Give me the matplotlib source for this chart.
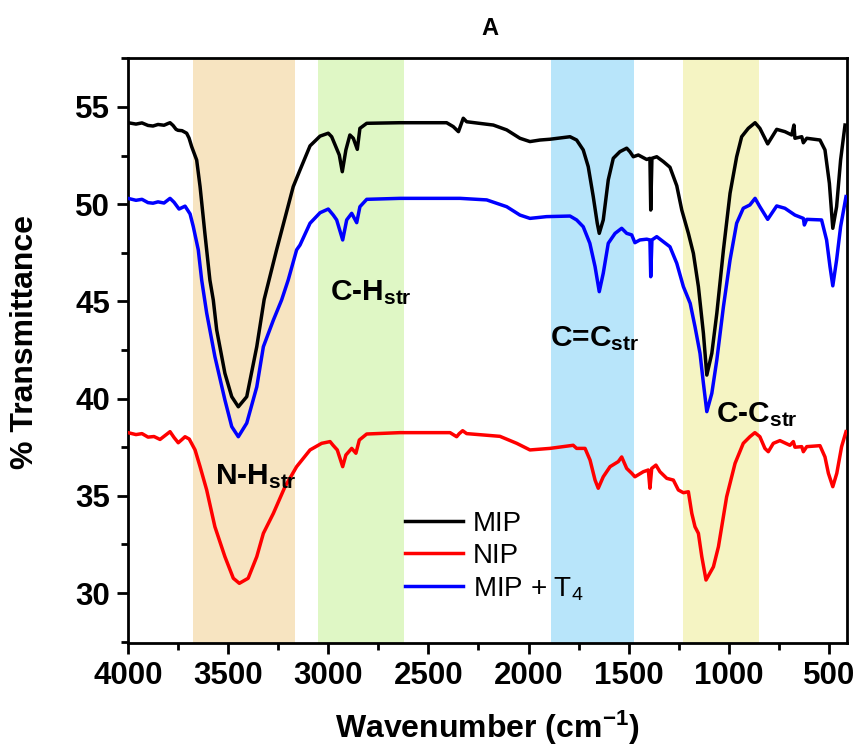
import matplotlib
matplotlib.use("Agg")
import matplotlib.pyplot as plt
from matplotlib.ticker import MultipleLocator

plt.rcParams['font.family'] = ['Liberation Sans', 'DejaVu Sans']
plt.rcParams['mathtext.fontset'] = 'custom'
plt.rcParams['mathtext.rm'] = 'Liberation Sans'
plt.rcParams['mathtext.it'] = 'Liberation Sans:italic'
plt.rcParams['mathtext.bf'] = 'Liberation Sans:bold'

# ---- FTIR spectra (wavenumber in cm-1, % transmittance) ----
mip_wn = [4000, 3960, 3930, 3900, 3875, 3850, 3820, 3800, 3790, 3775, 3760, 3750, 3730,
          3707, 3695, 3682, 3657, 3640, 3616, 3591, 3574, 3557, 3516, 3482, 3449, 3407,
          3357, 3320, 3258, 3175, 3141, 3091, 3041, 3000, 2983, 2966, 2945, 2930, 2912,
          2892, 2875, 2855, 2842, 2808, 2642, 2409, 2376, 2350, 2326, 2309, 2176, 2109,
          2043, 1993, 1943, 1893, 1793, 1760, 1727, 1702, 1677, 1657, 1647, 1627, 1602,
          1577, 1544, 1510, 1494, 1477, 1452, 1410, 1394, 1390, 1384, 1360, 1327, 1294,
          1260, 1235, 1202, 1177, 1152, 1127, 1110, 1085, 1060, 1027, 994, 961, 936, 903,
          869, 845, 806, 761, 720, 686, 675, 670, 636, 628, 611, 545, 520, 498, 481, 462,
          442, 420]
mip_t = [54.19, 54.12, 54.18, 54.05, 54.02, 54.10, 54.06, 54.15, 54.19, 54.05, 53.85, 53.80,
         53.78, 53.65, 53.40, 52.96, 52.27, 50.9, 48.5, 46.1, 45.07, 43.53, 41.3, 40.1,
         39.58, 40.1, 42.67, 45.1, 47.65, 50.9, 51.76, 53.0, 53.5, 53.65, 53.47, 53.05,
         52.53, 51.67, 52.79, 53.56, 53.39, 52.82, 53.9, 54.16, 54.19, 54.19, 53.99, 53.73,
         54.42, 54.24, 54.07, 53.82, 53.39, 53.22, 53.3, 53.34, 53.47, 53.3, 52.79, 51.93,
         50.39, 49.02, 48.5, 49.19, 51.25, 52.36, 52.7, 52.88, 52.7, 52.44, 52.53, 52.3,
         52.36, 49.7, 52.36, 52.44, 52.19, 51.9, 50.95, 49.7, 48.5, 47.47, 45.76, 43.36,
         41.21, 42.33, 44.39, 47.65, 50.56, 52.44, 53.47, 53.9, 54.19, 53.9, 53.1, 53.85,
         53.73, 53.56, 54.07, 53.39, 53.47, 53.16, 53.39, 53.3, 52.79, 51.07, 48.76, 49.87,
         52.27, 54.07]

nip_wn = [4000, 3960, 3930, 3900, 3870, 3840, 3815, 3790, 3770, 3749, 3730, 3715, 3694,
          3665, 3640, 3607, 3566, 3516, 3474, 3444, 3400, 3357, 3324, 3274, 3216, 3158,
          3091, 3033, 2991, 2976, 2955, 2928, 2912, 2883, 2862, 2845, 2808, 2642, 2392,
          2359, 2346, 2329, 2309, 2143, 2059, 1993, 1893, 1777, 1760, 1718, 1693, 1668,
          1652, 1627, 1593, 1552, 1535, 1510, 1485, 1469, 1427, 1402, 1394, 1385, 1364,
          1344, 1310, 1277, 1252, 1227, 1202, 1185, 1169, 1152, 1135, 1114, 1077, 1052,
          1011, 969, 928, 895, 870, 845, 820, 803, 778, 745, 695, 678, 670, 636, 628, 611,
          545, 520, 503, 481, 461, 437, 415]
nip_t = [38.25, 38.15, 38.2, 38.02, 38.05, 37.9, 38.1, 38.3, 38.0, 37.73, 37.9, 38.04, 37.92,
         37.36, 36.5, 35.3, 33.41, 31.87, 30.76, 30.5, 30.76, 31.87, 33.07, 34.1, 35.47,
         36.5, 37.36, 37.7, 37.79, 37.6, 37.36, 36.5, 37.1, 37.44, 37.19, 37.87, 38.18,
         38.25, 38.25, 38.04, 38.2, 38.35, 38.2, 38.06, 37.7, 37.36, 37.44, 37.6, 37.44,
         37.44, 36.84, 35.81, 35.39, 35.98, 36.5, 36.76, 37.0, 36.41, 36.16, 35.98, 36.24,
         36.33, 35.39, 36.41, 36.58, 36.24, 35.9, 35.81, 35.3, 35.16, 35.21, 34.1, 33.41,
         33.07, 31.87, 30.67, 31.35, 32.38, 34.95, 36.67, 37.7, 38.04, 38.25, 38.04, 37.44,
         37.27, 37.7, 37.84, 37.6, 37.79, 37.5, 37.53, 37.27, 37.53, 37.58, 37.0, 36.16,
         35.47, 36.16, 37.53, 38.3]

mipt4_wn = [4000, 3960, 3930, 3900, 3875, 3850, 3820, 3800, 3790, 3770, 3745, 3715, 3690,
            3674, 3649, 3632, 3607, 3566, 3516, 3482, 3449, 3407, 3357, 3324, 3274, 3233,
            3200, 3158, 3141, 3091, 3041, 3000, 2975, 2958, 2928, 2908, 2883, 2858, 2842,
            2808, 2642, 2342, 2209, 2109, 2043, 1993, 1910, 1793, 1760, 1727, 1694, 1668,
            1647, 1627, 1602, 1568, 1535, 1510, 1485, 1469, 1444, 1410, 1394, 1390, 1384,
            1360, 1327, 1294, 1260, 1227, 1193, 1169, 1144, 1127, 1110, 1085, 1060, 1027,
            994, 961, 928, 895, 869, 845, 806, 761, 720, 670, 628, 623, 611, 537, 512, 495,
            481, 462, 442, 415]
mipt4_t = [50.3, 50.2, 50.25, 50.08, 50.05, 50.12, 50.06, 50.22, 50.3, 50.1, 49.75, 49.9,
           49.5, 48.85, 47.65, 46.1, 44.4, 42.16, 39.93, 38.56, 38.04, 38.74, 40.6, 42.67,
           44.04, 45.07, 46.1, 47.65, 47.9, 49.02, 49.56, 49.75, 49.44, 49.19, 48.16, 49.19,
           49.53, 49.05, 49.87, 50.25, 50.3, 50.3, 50.22, 49.87, 49.44, 49.27, 49.36, 49.39,
           49.19, 48.84, 47.99, 46.79, 45.5, 46.45, 47.99, 48.5, 48.76, 48.5, 48.42, 48.02,
           48.16, 48.2, 48.16, 46.27, 48.16, 48.33, 48.07, 47.81, 46.96, 45.76, 44.9, 43.7,
           42.33, 40.79, 39.33, 40.27, 41.99, 44.73, 47.13, 49.02, 49.79, 49.96, 50.3, 49.87,
           49.22, 49.91, 49.79, 49.44, 49.27, 48.93, 49.22, 49.19, 48.16, 46.79, 45.8, 47.13,
           48.84, 50.39]

# ---- shaded vibration bands ----
band_ranges = [(3675, 3165), (3050, 2620), (1890, 1475), (1230, 850)]
band_colors = ['#F7E4C1', '#DFF7C5', '#B8E5FA', '#F5F4C3']

band_labels = ['N-H', 'C-H', 'C=C', 'C-C']
label_pos = [(3566, 35.61), (2991, 45.07), (1893, 42.72), (1064, 38.81)]

fig = plt.figure(figsize=(8.56, 7.49), dpi=100)
ax = fig.add_axes([0.1495, 0.1415, 0.8400, 0.7811])

for (hi, lo), col in zip(band_ranges, band_colors):
    ax.axvspan(lo, hi, color=col, lw=0, zorder=0)

lw = 2.5
ax.plot(mip_wn, mip_t, color='#000000', lw=lw, label='MIP', zorder=3)
ax.plot(nip_wn, nip_t, color='#FF0000', lw=lw, label='NIP', zorder=3)
ax.plot(mipt4_wn, mipt4_t, color='#0000FF', lw=lw, label='MIP + T$_4$', zorder=3)

for lab, (x, y) in zip(band_labels, label_pos):
    ax.text(x, y, lab + r'$_{\mathbf{str}}$', fontsize=21.5, fontweight='bold',
            ha='left', va='baseline', zorder=4)

ax.set_xlim(4000, 410)
ax.set_ylim(27.43, 57.52)
ax.xaxis.set_major_locator(MultipleLocator(500))
ax.xaxis.set_minor_locator(MultipleLocator(250))
ax.yaxis.set_major_locator(MultipleLocator(5))
ax.yaxis.set_minor_locator(MultipleLocator(2.5))

for s in ax.spines.values():
    s.set_linewidth(2.0)
ax.tick_params(which='major', direction='out', length=8, width=2.0, pad=5,
               labelsize=22.5, top=False, right=False)
ax.tick_params(which='minor', direction='out', length=5, width=2.0,
               top=False, right=False)
for t in ax.get_xticklabels() + ax.get_yticklabels():
    t.set_fontweight('bold')

ax.set_xlabel('Wavenumber (cm$^{\\mathbf{-1}}$)', fontsize=23, fontweight='bold')
ax.set_ylabel('% Transmittance', fontsize=23, fontweight='bold')
ax.xaxis.set_label_coords(0.5, -0.112)
ax.yaxis.set_label_coords(-0.122, 0.515)

fig.text(0.572, 0.962, 'A', fontsize=17, fontweight='bold', ha='center', va='center')

ax.legend(loc='upper left', bbox_to_anchor=(0.385, 0.226), frameon=False,
          fontsize=20, handlelength=2.1, handletextpad=0.35, labelspacing=0.22,
          borderpad=0, borderaxespad=0)

fig.savefig('out.png', dpi=100)
